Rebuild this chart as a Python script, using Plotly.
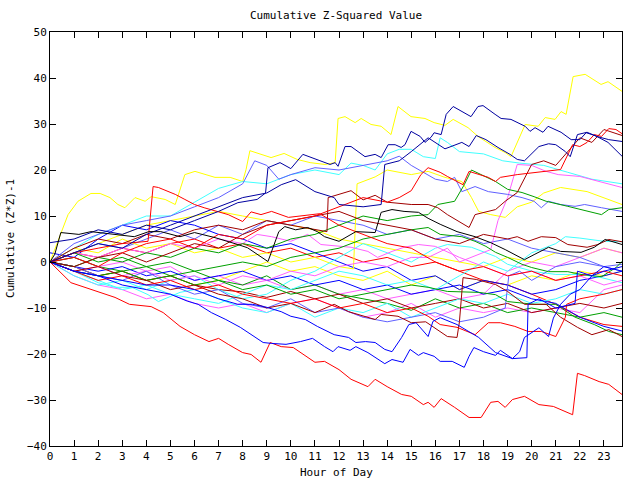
import plotly.graph_objects as go

HOURS = list(range(24)) + [23.75]
HOUR_TICKS = list(range(24))

COLORS = {
    "red": "#ff0000", "darkred": "#a00000", "blue": "#0000ff", "navy": "#0000a0",
    "slate": "#6060ff", "cyan": "#40ffff", "magenta": "#ff60ff", "green": "#00a000",
    "yellow": "#ffff00", "black": "#000000",
}

# ---- series given as (hour, value) pairs ----
Y1 = [(0,0),(0.46,6.6),(0.75,10.3),(1.16,13.2),(1.7,14.9),(2.08,14.9),(2.49,14.0),(2.82,12.5),(3.11,11.8),(3.53,14.0),(3.95,13.2),(4.2,14.2),(4.78,13.6),(5.2,12.5),(5.44,16.2),(5.6,19.0),(6.02,19.7),(6.44,19.0),(6.85,18.4),(7.48,18.4),(8.0,17.5),(8.14,20.1),(8.3,24.2),(9.18,22.7),(9.72,23.6),(10.26,22.3),(10.8,21.6),(11.42,21.2),(11.84,21.6),(11.96,31.2),(12.25,31.6),(12.67,30.3),(12.92,31.2),(13.33,29.9),(13.75,29.5),(14.16,27.7),(14.45,33.8),(14.99,31.6),(15.57,31.2),(15.95,30.3),(16.4,29.7),(16.74,31.0),(17.36,29.2),(17.77,27.3),(18.48,24.9),(18.9,23.8),(19.14,22.9),(19.73,29.9),(20.27,29.5),(20.56,31.4),(20.97,31.0),(21.22,32.7),(21.43,32.1),(21.72,40.3),(22.22,40.8),(22.88,38.6),(23.17,39.2),(23.75,37.1)]
Y2 = [(0,0),(1,3),(2,2),(3,5),(4,3),(5,4),(6,2),(7,3),(8,1),(9,2),(10,0),(11,1),(12,-1),(12.6,-1.5),(12.75,17),(13.5,18.5),(14,20),(15,19),(15.7,19.7),(16.4,18.4),(17.1,17.5),(17.5,14),(17.8,11),(18.3,10.3),(18.9,9.7),(19.4,12),(20,13),(20.5,15),(21.2,16.2),(22.3,15.3),(23.75,12.5)]
DB1 = [(0,4.2),(1,5),(2,7),(3,6),(4,8),(5,7),(6,9),(7,11),(7.8,12.9),(8.6,13.6),(8.95,15),(9.05,20.5),(9.55,21.6),(10.0,20.3),(10.5,23.4),(11.0,22.5),(11.63,21.2),(11.84,21.6),(11.96,20.8),(12.25,25.1),(12.5,25.1),(13.08,22.9),(13.5,23.4),(13.75,22.7),(14.04,25.5),(14.33,25.5),(14.58,24.9),(14.74,25.5),(14.99,28.4),(15.37,27.3),(15.57,26.0),(15.82,27.1),(15.95,28.1),(16.24,27.7),(16.45,32.1),(16.74,33.8),(16.94,33.2),(17.48,31.6),(17.77,33.8),(17.98,34.0),(18.48,32.1),(18.73,31.2),(19.14,31.0),(19.73,29.5),(19.93,28.4),(20.14,29.2),(20.47,28.2),(20.68,29.5),(21.22,28.2),(21.64,26.6),(22.0,26.6),(22.26,28.1),(22.63,27.5),(23.17,26.0),(23.75,23.0)]
N3 = [(0,0),(1,2),(2,4),(3,3),(4,6),(5,8),(6,10),(7,12),(8,14),(9,15),(9.6,16.8),(10.2,17.9),(11,15.3),(11.8,14),(12,12.5),(13,12),(13.75,12.5),(13.9,21.2),(14.5,22),(15,24),(15.7,27),(16.4,24.6),(17.1,26),(17.4,25.1),(17.7,27.5),(18.1,26.6),(18.6,24.9),(19.1,23.4),(19.4,22.3),(19.7,22),(20.3,25.1),(20.7,25.7),(21,25.5),(21.4,24),(21.6,22.9),(21.9,27.7),(22.3,28.2),(22.7,27.3),(23.2,26.6),(23.75,26.2)]
C1 = [(0,0),(1,3),(2,6),(3,8),(4,10),(5,10),(6,13),(7,16),(8,17.5),(9,17),(10,19),(11,20),(12,19),(12.5,21.5),(13,21),(13.5,20),(14,23.5),(14.5,24.5),(15,24.5),(15.5,22.9),(16,22.5),(16.2,27),(16.5,26),(17,24),(18,23.5),(18.8,22),(19.5,21.5),(20.5,21),(21.5,19.5),(22.5,18),(23.75,17)]
M1 = [(0,0),(1,-2),(2,-1),(3,-3),(4,-2),(5,-4),(6,-3),(7,-5),(8,-3),(9,-4),(10,-2),(11,-3),(12,-1),(13,0),(14,-1),(15,1),(15.7,1),(16.5,3),(17,0),(18,2),(18.3,2.7),(18.6,9),(19.0,14),(19.4,21.2),(20.0,21),(20.6,19.7),(21.1,19),(22.0,18.6),(23.2,17),(23.75,16.2)]
R1 = [(0,0),(0.87,-4.5),(2.7,-7.7),(3.3,-9.2),(4.2,-9.7),(4.7,-11),(5.4,-14),(6.0,-15.8),(6.6,-17.3),(7.0,-16.6),(7.4,-17.9),(8.0,-19.7),(8.35,-20.1),(8.76,-21.8),(9.14,-17.5),(9.6,-18.4),(10.1,-18.6),(11.0,-21.8),(11.4,-21.6),(12.0,-23.4),(12.5,-25.5),(13.2,-27.1),(13.5,-25.5),(14.0,-27.1),(14.6,-28.8),(15.0,-29.2),(15.5,-31),(15.7,-30.5),(15.95,-31.6),(16.24,-29.7),(16.8,-31.6),(17.4,-33.8),(17.9,-33.8),(18.3,-30.5),(18.6,-30.3),(18.9,-31.6),(19.2,-29.9),(19.7,-29.2),(20.3,-31),(20.9,-31.4),(21.7,-33.2),(21.9,-24.2),(22.2,-24.7),(22.8,-26),(23.2,-26.6),(23.75,-28.8)]
BLOW = [(0,0),(1,-2),(2,-3),(3,-5),(4,-6),(5,-7),(5.7,-8.5),(6.15,-9.2),(6.7,-11),(7.3,-12.5),(7.9,-14.2),(8.35,-15.8),(8.85,-17.5),(9.2,-17.7),(9.8,-17.9),(10.4,-17.3),(10.9,-16.6),(11.4,-18.4),(11.75,-19.5),(11.96,-18.4),(12.46,-19.2),(12.7,-18.4),(13.2,-19.7),(13.9,-22.1),(14.2,-21.2),(14.66,-21.8),(14.95,-19),(15.3,-20.3),(15.5,-19.7),(15.95,-20.5),(16.2,-21.6),(16.7,-21.6),(17.2,-22.9),(17.4,-20.5),(17.6,-18.6),(18.0,-19.5),(18.5,-20.3),(18.7,-19.2),(19.2,-21),(19.5,-19.5),(19.7,-16.4),(20.3,-14.3),(20.7,-16.2),(20.9,-12.2),(21.2,-9.2),(21.6,-7),(22,-6),(22.5,-3),(23,-2),(23.75,-1)]
B2 = [(0,0),(1,-2),(2,-3),(3,-4),(4,-5),(5,-5),(6,-6),(7,-8),(7.8,-9.2),(8.4,-9.2),(8.9,-9.7),(9.6,-10.8),(10.0,-11.8),(10.6,-12.5),(11.1,-14),(11.8,-15.8),(12.4,-16.4),(12.7,-17.5),(13.1,-17.3),(13.5,-17.5),(13.9,-19),(14.2,-19.5),(14.6,-16.4),(14.9,-13.6),(15.2,-13.2),(15.7,-16.2),(15.9,-12.9),(16.2,-12.1),(16.9,-13.6),(17.8,-16.4),(18.5,-19.7),(19.2,-21),(19.8,-20.8),(19.85,-9.2),(20.3,-8),(21,-10),(21.8,-9),(21.9,-2),(22.5,-3),(23,-1),(23.75,-2)]
R2 = [(0,0),(1,2),(2,3),(3,4),(4.07,4.5),(4.28,16.4),(4.5,16.2),(5.2,14.7),(5.6,13.6),(6.0,12.5),(6.4,11.8),(7.0,11),(7.4,10.3),(8.0,8.8),(8.35,10.9),(8.76,10.3),(9.2,11),(9.9,9.7),(10.3,9.9),(10.8,10.3),(11.2,10.5),(12,8),(13,6),(14,4),(15,3),(16,0),(17,-2),(18,-1),(19,-3),(20,-2),(21,-4),(22,-3),(23,-2),(23.75,-3)]
R3 = [(0,0),(1,1),(2,-1),(3,2),(4,4),(5,5),(6,3),(7,6),(8,5),(9,8),(10,9),(11,10),(12,12),(13,14),(14,13),(14.5,14),(15,15.5),(15.4,19),(15.7,20.5),(16.2,19.5),(16.5,18.6),(17.15,16.8),(17.4,19.7),(18.2,18.4),(18.5,17.5),(18.7,18.4),(19.4,19),(20.3,19.5),(21.2,20.1),(21.7,25.5),(22.0,25.1),(22.3,26),(22.6,27.7),(22.9,27.3),(23.2,29),(23.5,28.8),(23.75,27.9)]
R4 = [(0,0),(1,-2),(2,-4),(3,-3),(4,-5),(5,-4),(6,-6),(7,-5),(8,-7),(9,-8),(10,-9),(11,-8),(12,-10),(13,-9),(14,-11),(15,-10),(15.7,-11.8),(16.2,-13.6),(16.9,-14.2),(17.65,-15.8),(18.2,-13.2),(18.7,-13.2),(19.3,-14),(19.85,-15.1),(20.4,-15.1),(21,-16.2),(21.4,-12),(21.45,-9.2),(22,-8),(23,-7),(23.75,-6)]
DR1 = [(0,0),(1,3),(2,5),(3,4),(4,6),(5,5),(6,7),(7,8),(8,7),(9,9),(10,8),(11,7),(11.5,6.6),(11.55,14),(12,14.7),(12.5,15.5),(13,13.5),(13.5,14.5),(14,13),(15,12.5),(15.7,12.5),(16.1,11.8),(16.5,10.3),(17.4,7.5),(17.65,10.3),(18.5,11.4),(18.9,13.2),(19.4,15.1),(20,21.2),(20.5,22),(21,21),(21.5,24),(22,27),(22.5,26),(23,28.8),(23.75,27.5)]
DR2 = [(0,0),(1,-2),(2,-1),(3,-3),(4,-4),(5,-6),(6,-5),(7,-7),(8,-8),(9,-10),(10,-9),(11,-11),(11.8,-9.2),(12.4,-10.8),(13.5,-12.5),(13.75,-11.4),(14.45,-11.8),(15,-13.2),(15.6,-13),(16.5,-16.2),(16.9,-16.4),(17,-13),(17.15,-3.4),(17.7,-3.8),(18.5,-4.9),(19,-6.4),(19.7,-9.2),(20.6,-9.2),(21.2,-12),(21.9,-14.2),(22.5,-15.8),(23.2,-14.7),(23.75,-16.2)]
DR4 = [(0,0),(1,-1),(2,1),(3,2),(4,0),(5,2),(6,4),(7,3),(8,6),(9,8),(10,9),(11,10),(12,11),(13,9),(14,8),(15,7),(16,5),(17,4),(18,6),(19,5),(19.4,5.5),(19.85,4.5),(20.4,5.5),(21,5.3),(21.5,3.8),(22.3,3.2),(22.75,3.8),(23.2,4.9),(23.75,4.4)]
G1 = [(0,0),(1,-1),(2,1),(3,0),(4,2),(5,1),(6,3),(7,2),(8,4),(9,3),(10,5),(11,6),(12,8),(13,10),(14,9),(15,10),(15.7,10.3),(16.1,12.5),(16.8,13.2),(17.2,16.8),(17.5,20),(18.1,18.6),(18.5,17.5),(19,15.8),(19.6,15.1),(20.1,14.2),(20.6,13.2),(21.5,12.1),(22.3,11),(22.9,10.3),(23.2,11.4),(23.75,11.8)]
G2 = [(0,0),(1,2),(2,0),(3,1),(4,-1),(5,0),(6,-2),(7,-1),(8,0),(9,-1),(10,1),(11,2),(12,3),(13,5),(14,6),(15,7),(15.7,7.5),(16.2,6),(17.1,5.5),(17.65,4.5),(18.1,3.4),(18.5,2.1),(19,1),(19.6,-0.5),(20,-1.2),(20.7,-2.1),(21.5,-2.1),(22.05,-2.7),(22.9,-3.2),(23.5,-1.2),(23.75,0.1)]
G3 = [(0,0),(1,-2),(2,-3),(3,-2),(4,-4),(5,-3),(6,-5),(7,-4),(8,-6),(9,-5),(10,-7),(11,-6),(12,-8),(13,-7),(14,-6),(15,-5),(15.7,-5.5),(16.5,-6.4),(17.8,-6.6),(18.5,-7.1),(19,-8.6),(20.1,-9.2),(21,-9.2),(21.8,-12),(22.6,-13.6),(23.2,-15.1),(23.75,-15.8)]
C2 = [(0,0),(1,-3),(2,-5),(3,-4),(4,-6),(5,-4),(6,-3),(7,-6),(8,-8),(9,-7),(10,-4),(11,-2),(12,1),(13,4),(14,2),(15,0),(16,3),(16.5,3.8),(17.5,3.2),(18.5,1.2),(19,-0.5),(20.1,-2.1),(21,-2.7),(22,-2.7),(22.9,-3.4),(23.75,-4.5)]
C3 = [(0,0),(1,-2),(2,-4),(3,-6),(4,-5),(5,-7),(6,-8),(7,-9),(8,-7),(9,-5),(10,-6),(11,-4),(12,-2),(13,-3),(14,-5),(15,-4),(16,-6),(17,-3),(18,0),(19,-2),(20,2),(21,4),(21.4,5.5),(22,5.2),(23,4.5),(23.75,4.4)]
C4 = [(0,0),(1,-2),(2,-4.5),(2.7,-5.5),(3.4,-5.5),(4.07,-7.1),(4.5,-8.6),(5.4,-6.6),(6,-6),(7,-8),(8,-10),(9,-11),(10,-9),(11,-12),(12,-10),(13,-11),(14,-9),(15,-12),(16,-10),(17,-8),(18,-9),(19,-7),(20,-9),(21,-8),(22,-6),(23,-7),(23.75,-6)]
M4 = [(0,0),(1,2),(2,1),(3,3),(4,2),(5,4),(6,3),(7,5),(8,4),(8.6,6),(9.2,5.5),(10,4.5),(10.7,6),(11.25,3.8),(12.5,3.2),(13.2,2.3),(13.6,1),(14.2,2.3),(14.7,3.2),(15.3,3.8),(16,3.4),(17,1),(18,-1),(19,-3),(20,-2),(21,-4),(22,-3),(23,-5),(23.75,-4)]
S1 = [(0,0),(1,4),(2,6),(3,8),(4,9),(5,10),(6,12),(7,14),(8,17),(8.5,22),(9,21),(9.5,18),(10,19),(11,20.5),(12,20),(13,21),(14,22),(14.5,23),(15,21),(16,18),(16.5,17.5),(16.8,18.4),(17.1,15.3),(17.65,16.4),(18.2,15.3),(19,14.7),(19.6,14),(20.1,13.2),(20.4,11.8),(20.7,13.2),(21.2,12.5),(21.8,12.1),(22.2,12.5),(22.9,11.8),(23.75,11)]
S2 = [(0,0),(1,-1),(2,-3),(3,-4),(4,-2),(5,-5),(6,-7),(7,-6),(8,-9),(9,-10),(10,-8),(11,-11),(12,-10),(13,-12),(14,-13),(15,-12),(16,-11),(17,-13),(18,-12),(18.9,-10),(19.05,-3),(19.5,-2),(20,-4),(21,-1),(22,0),(23,-1),(23.75,-0.5)]
K1 = [(0,0),(0.2,1.7),(0.45,6.4),(1.2,6),(1.7,6.6),(2.7,6),(3.5,5.5),(4.1,6.6),(4.6,6.6),(5.4,5.5),(6,6.4),(6.85,5.3),(7.4,4.5),(7.8,3.8),(8.2,3.1),(9.05,0.1),(9.5,6.6),(9.75,7.7),(10.2,7),(10.7,7.5),(11.1,6.6),(11.4,5.5),(12,4.5),(12.7,6.6),(13.5,6.4),(13.75,10.8),(14.2,11.4),(14.7,11),(15.3,10.8),(15.7,9.5),(16.2,8.2),(16.9,6.6),(17.65,5.5),(18.3,4.2),(18.9,2.7),(19.3,1.6),(19.7,0.5),(20.1,1.6),(20.7,3.2),(21.2,2.3),(22.05,2.1),(22.6,3.2),(23.05,4.9),(23.5,4.2),(23.75,3.8)]

# ---- series given as hourly values (at HOURS) ----
Y3 = [0,-1,-3,-2,-4,-3,-5,-4,-2,0,-2,-1,-3,-4,-2,-5,-3,-6,-4,-5,-3,-4,-2,-3,-2]
Y4 = [0,2,4,6,8,9,10,11,10,9,8,7,5,4,3,2,1,0,-1,1,0,2,1,3,2]
R5 = [0,2,1,3,2,4,5,3,4,2,3,1,2,0,1,-1,0,-2,-4,-5,-7,-9.2,-12,-13.6,-14]
DR5 = [0,-1,-3,-2,-4,-3,-5,-6,-6.5,-7.7,-6.4,-8,-7,-9,-8,-10,-9,-8,-10,-9,-11,-10,-9,-10,-9]
G4 = [0,1,-1,-2,-1,-3,-2,-4,-5,-3,-6,-5,-7,-8,-9,-10.5,-8,-10,-9,-11,-10,-11,-12,-11,-12]
M2 = [0,-3,-5,-6,-8,-7,-9,-10,-9,-11,-9,-8,-10,-12,-11,-9,-12,-10,-11,-10,-11,-10,-11,-6,-5]
M3 = [0,1,-1,0,-2,-1,-4,-3,-5,-4,-6,-5,-7,-6,-8,-7,-6,-8,-7,-2,0,-1,1,3,2]
S3 = [0,2,4,3,5,7,5,8,6,9,8,10,9,8,6,7,5,6,4,5,3,2,1,-1,-2]
B3 = [2,1,5,8,7,9,8,6,5,3,4,2,0,-2,-1,-4,-3,-6,-4,-5,-7,-6,-4,-3,-2]
B4 = [0,-1,-2,-1,-3,-2,-4,-3,-2,-4,-3,-5,-4,-6,-5,-7,-6,-5,-7,-6,-8,-9,-12,-14,-15]

PAIR_SERIES = [
    (Y2, "yellow"), (Y1, "yellow"), (C1, "cyan"), (C2, "cyan"), (C3, "cyan"), (C4, "cyan"),
    (M1, "magenta"), (M4, "magenta"), (S1, "slate"), (S2, "slate"),
    (G1, "green"), (G2, "green"), (G3, "green"),
    (DR1, "darkred"), (DR2, "darkred"), (DR4, "darkred"),
    (R2, "red"), (R3, "red"), (R4, "red"), (R1, "red"),
    (B2, "blue"), (BLOW, "blue"), (N3, "navy"), (DB1, "navy"), (K1, "black"),
]
HOURLY_SERIES = [
    (Y3, "yellow"), (Y4, "yellow"), (M2, "magenta"), (M3, "magenta"), (S3, "slate"),
    (G4, "green"), (DR5, "darkred"), (R5, "red"), (B3, "blue"), (B4, "blue"),
]

fig = go.Figure()
for vals, col in HOURLY_SERIES:
    fig.add_trace(go.Scatter(x=HOURS, y=vals, mode="lines",
                             line=dict(color=COLORS[col], width=1)))
for pts, col in PAIR_SERIES:
    fig.add_trace(go.Scatter(x=[p[0] for p in pts], y=[p[1] for p in pts], mode="lines",
                             line=dict(color=COLORS[col], width=1)))

FONT = "DejaVu Sans Mono"
axis_common = dict(showline=True, linecolor="black", linewidth=1, mirror="ticks",
                   ticks="inside", ticklen=6, tickcolor="black", tickwidth=1,
                   showgrid=False, zeroline=False,
                   tickfont=dict(family=FONT, size=11, color="black"))
fig.update_xaxes(range=[0, 23.75], tickvals=HOUR_TICKS, **axis_common)
fig.update_yaxes(range=[-40, 50], tick0=0, dtick=10, **axis_common)

fig.update_layout(
    width=640, height=480, autosize=False,
    margin=dict(l=50, r=18, t=32, b=34),
    paper_bgcolor="white", plot_bgcolor="white", showlegend=False,
    font=dict(family=FONT, size=11, color="black"),
    title=dict(text="Cumulative Z-Squared Value", x=0.5, xref="paper",
               y=1 - 15 / 480, yref="container", yanchor="middle",
               font=dict(family=FONT, size=11, color="black")),
    annotations=[
        dict(text="Hour of Day", xref="paper", yref="paper", x=0.5, y=-26 / 414,
             showarrow=False, yanchor="middle", font=dict(family=FONT, size=11)),
        dict(text="Cumulative (Z*Z)-1", xref="paper", yref="paper", x=-40 / 572, y=0.5,
             textangle=-90, showarrow=False, xanchor="center",
             font=dict(family=FONT, size=11)),
    ],
)

fig.write_html("out.html")
